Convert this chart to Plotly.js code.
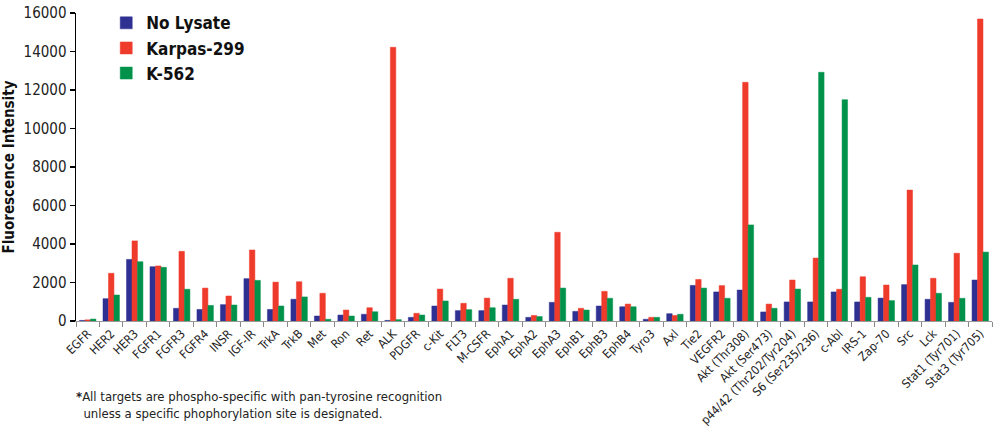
<!DOCTYPE html>
<html>
<head>
<meta charset="utf-8">
<script src="https://cdn.plot.ly/plotly-3.0.1.min.js"></script>
<style>
html,body{margin:0;padding:0;background:#fff;}
#chart{width:997px;height:433px;}
</style>
</head>
<body>
<div id="chart"></div>
<script>
var categories = ["EGFR","HER2","HER3","FGFR1","FGFR3","FGFR4","INSR","IGF-IR","TrkA","TrkB","Met","Ron","Ret","ALK","PDGFR","c-Kit","FLT3","M-CSFR","EphA1","EphA2","EphA3","EphB1","EphB3","EphB4","Tyro3","Axl","Tie2","VEGFR2","Akt (Thr308)","Akt (Ser473)","p44/42 (Thr202/Tyr204)","S6 (Ser235/236)","c-Abl","IRS-1","Zap-70","Src","Lck","Stat1 (Tyr701)","Stat3 (Tyr705)"];

var noLysate = [30,1160,3200,2820,660,600,850,2200,600,1130,260,310,350,30,190,780,540,540,830,190,970,500,780,740,90,380,1850,1510,1610,470,990,990,1510,990,1190,1890,1130,970,2130];
var karpas299 = [60,2480,4160,2860,3620,1710,1300,3690,2020,2040,1440,570,690,14220,400,1660,920,1190,2220,290,4610,660,1540,880,190,290,2160,1840,12400,880,2130,3270,1650,2300,1870,6800,2220,3520,15690];
var k562 = [100,1350,3080,2790,1650,810,830,2110,780,1250,90,260,480,70,310,1040,590,690,1130,230,1710,570,1180,740,190,350,1710,1180,4990,660,1660,12920,11500,1230,1060,2910,1440,1180,3580];

var seriesNames = ["No Lysate","Karpas-299","K-562"];
var yTicks = [0,2000,4000,6000,8000,10000,12000,14000,16000];
var footnote = ["<b>*</b>All targets are phospho-specific with pan-tyrosine recognition", "unless a specific phophorylation site is designated."];

var FONT = "'Liberation Sans Narrow','DejaVu Sans Condensed','Arial Narrow',sans-serif";
var colors = ["#2e3192","#ef3b2c","#00924a"];
var vals = [noLysate, karpas299, k562];

var traces = vals.map(function(v,i){
  return {
    type:"bar", x:categories, y:v, name:seriesNames[i],
    marker:{color:colors[i], line:{color:colors[i], width:0.5}}
  };
});

var layout = {
  width:997, height:433,
  margin:{l:76, r:5, t:13, b:112},
  paper_bgcolor:"#fff", plot_bgcolor:"#fff",
  barmode:"group", bargap:0.3, bargroupgap:0,
  font:{family:FONT, color:"#222"},
  showlegend:true,
  legend:{x:0.033, y:1.025, xanchor:"left", yanchor:"top",
    font:{family:FONT, size:17, color:"#111", weight:"bold"},
    bgcolor:"rgba(0,0,0,0)", tracegroupgap:0, itemwidth:30},
  xaxis:{
    type:"category", tickangle:-45, tickson:"boundaries",
    ticks:"outside", ticklen:5, tickcolor:"#888", tickwidth:1,
    showline:true, linecolor:"#999", linewidth:1,
    tickfont:{family:FONT, size:12, color:"#222"},
    showgrid:false, zeroline:false, automargin:false
  },
  yaxis:{
    range:[0,16000], tickvals:yTicks, ticktext:yTicks.map(String),
    ticks:"outside", ticklen:5, tickcolor:"#000", tickwidth:1.2,
    showline:true, linecolor:"#000", linewidth:1.5,
    tickfont:{family:FONT, size:15, color:"#222"},
    showgrid:false, zeroline:false, automargin:false,
    title:{text:"<b>Fluorescence Intensity</b>", font:{family:FONT, size:15, color:"#111"}, standoff:8}
  },
  annotations:[{
    xref:"paper", yref:"paper", x:-0.002, y:-0.215, xanchor:"left", yanchor:"top",
    align:"left", showarrow:false,
    text: footnote[0] + "<br>&nbsp;&nbsp;" + footnote[1],
    font:{family:FONT, size:13, color:"#222"}
  }]
};

Plotly.newPlot("chart", traces, layout, {displayModeBar:false, staticPlot:true});
</script>
</body>
</html>
